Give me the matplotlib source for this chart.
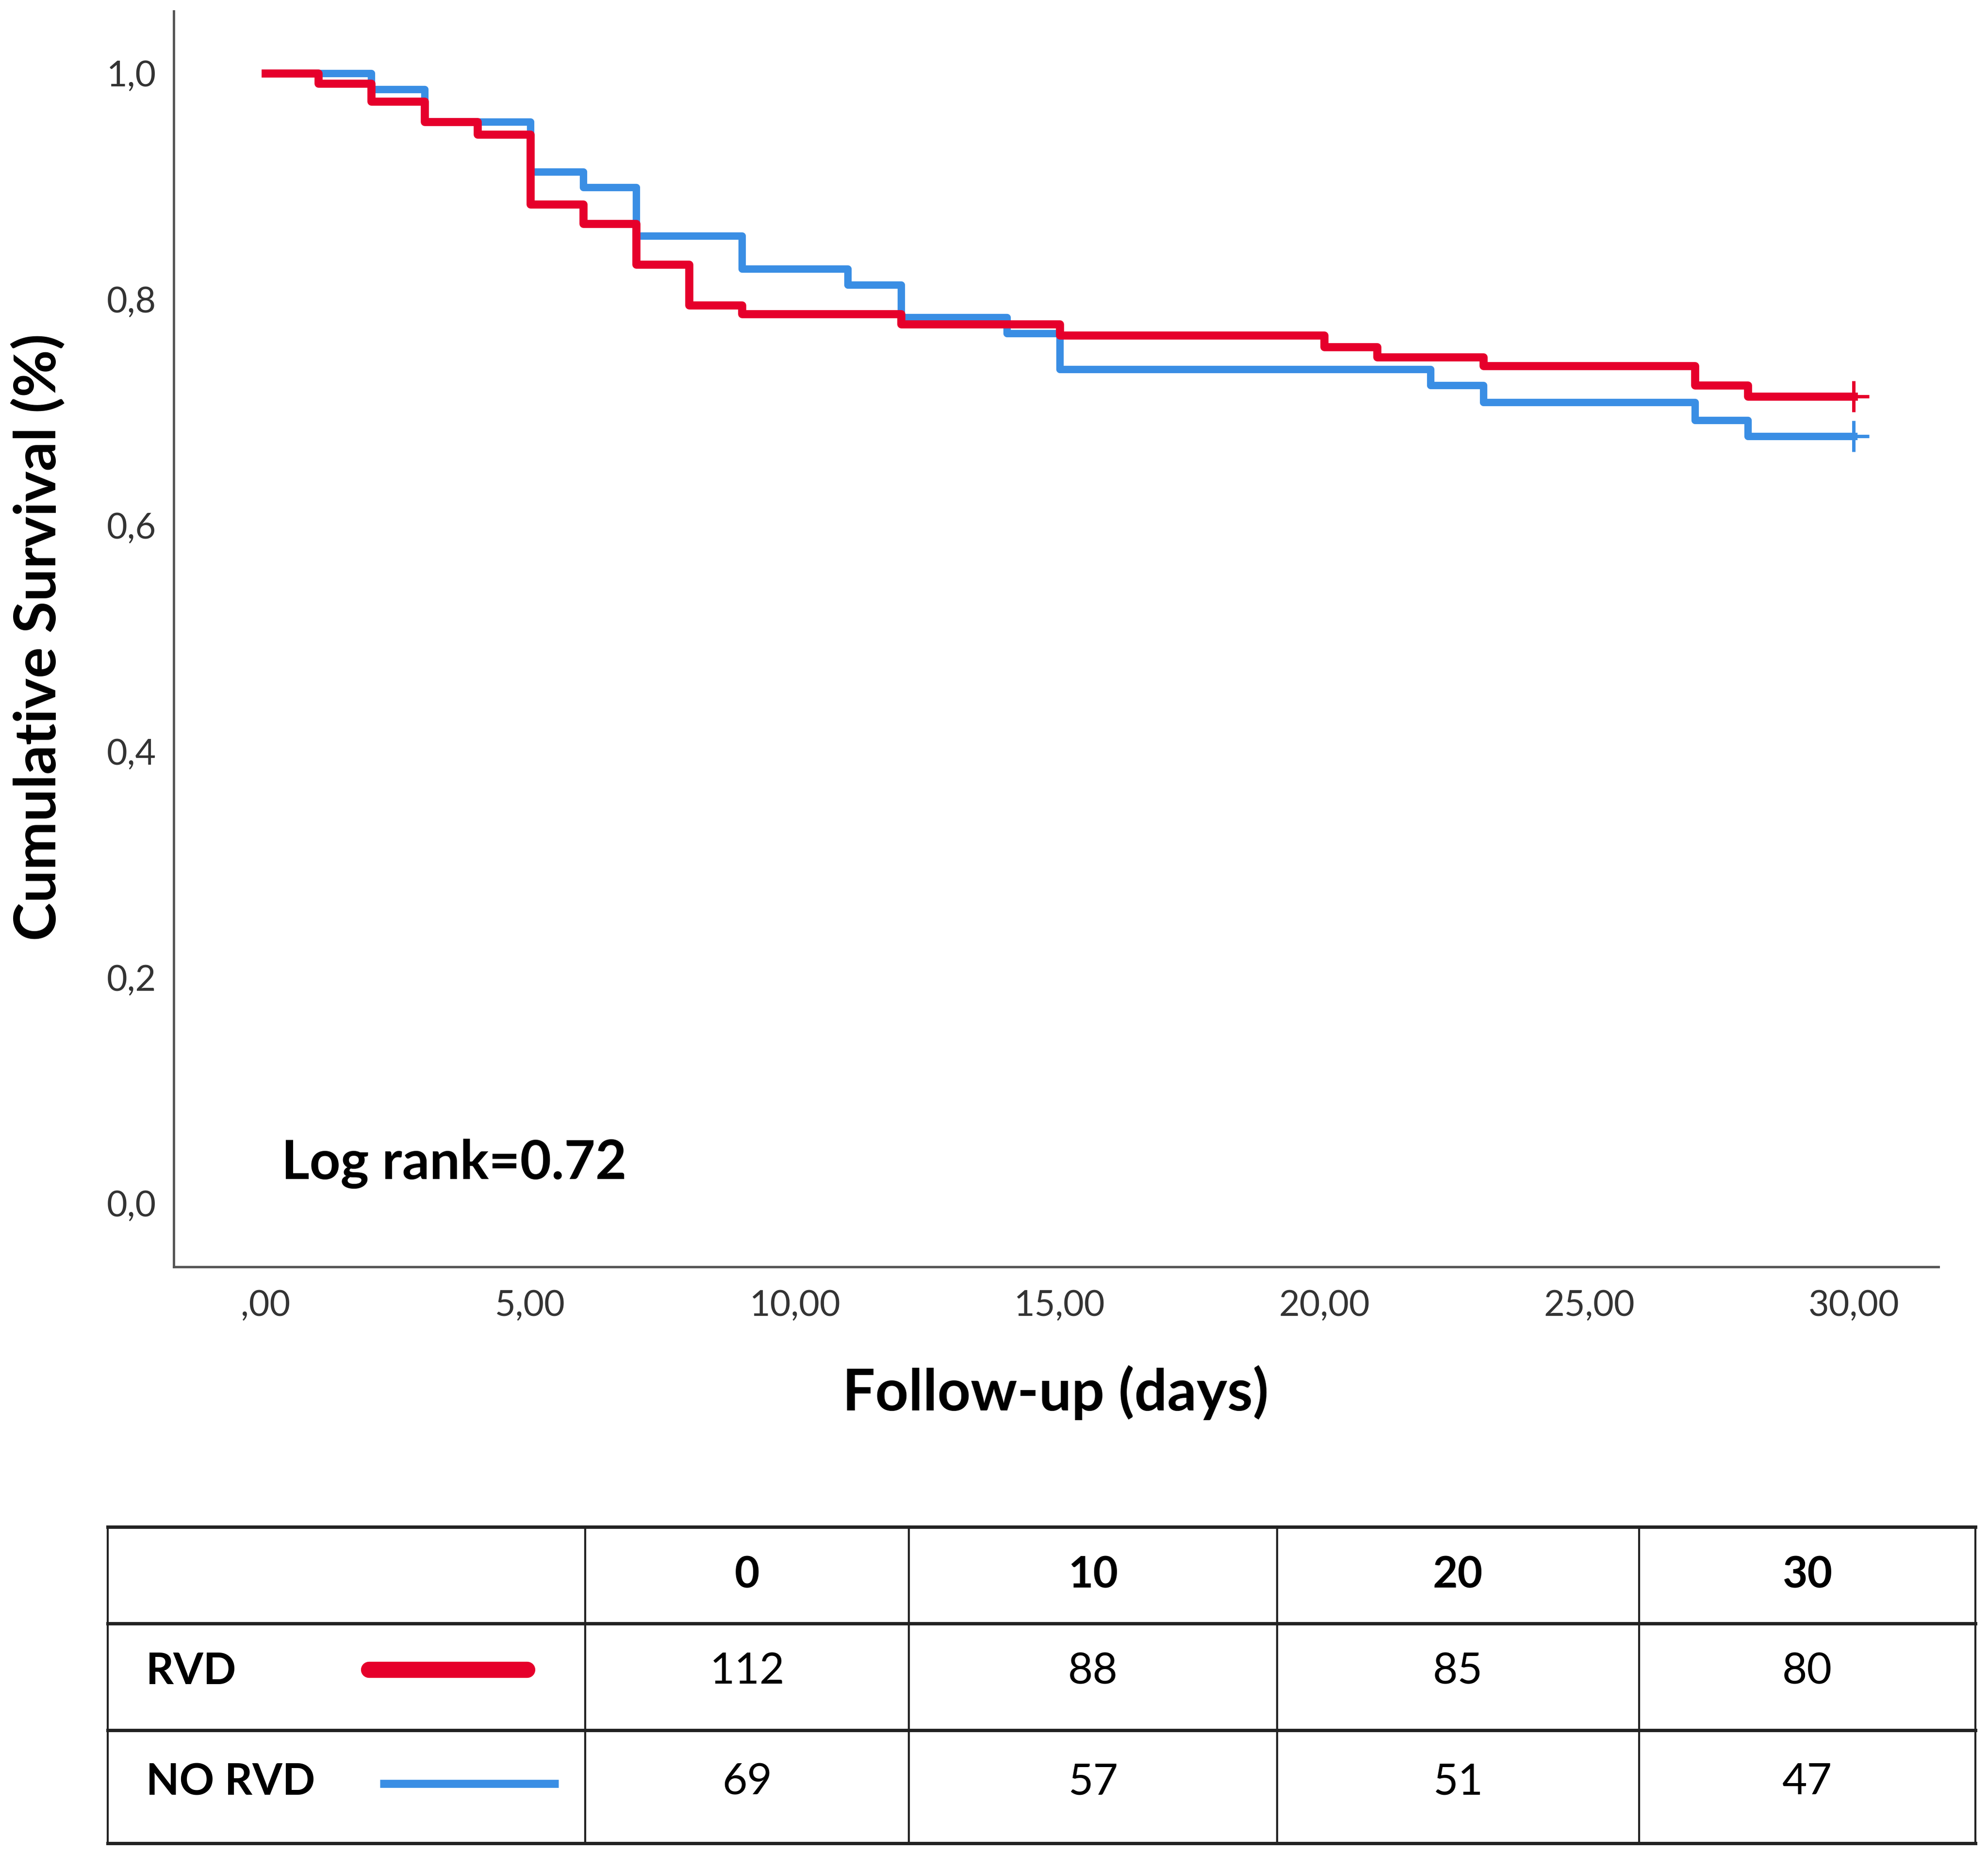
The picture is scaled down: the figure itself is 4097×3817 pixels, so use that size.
import numpy as np
import matplotlib
matplotlib.use("Agg")
import matplotlib.pyplot as plt

plt.rcParams["font.family"] = ["Lato", "DejaVu Sans"]

# Kaplan-Meier step data
rvd_t = [0, 1, 2, 3, 4, 5, 6, 7, 8, 9, 12, 15, 20, 21, 23, 27, 28, 30]
rvd_s = [1.0, 0.991, 0.975, 0.957, 0.946, 0.884, 0.867, 0.831, 0.795, 0.787,
         0.778, 0.768, 0.758, 0.749, 0.741, 0.724, 0.714, 0.714]
norvd_t = [0, 2, 3, 5, 6, 7, 9, 11, 12, 14, 15, 22, 23, 27, 28, 30]
norvd_s = [1.0, 0.986, 0.957, 0.913, 0.899, 0.856, 0.827, 0.813, 0.784,
           0.770, 0.738, 0.724, 0.709, 0.693, 0.679, 0.679]

yticks = [0.0, 0.2, 0.4, 0.6, 0.8, 1.0]
ytick_labels = ["0,0", "0,2", "0,4", "0,6", "0,8", "1,0"]
xticks = [0, 5, 10, 15, 20, 25, 30]
xtick_labels = [",00", "5,00", "10,00", "15,00", "20,00", "25,00", "30,00"]

# numbers at risk table
risk_times = ["0", "10", "20", "30"]
risk_groups = ["RVD", "NO RVD"]
risk_rvd = [112, 88, 85, 80]
risk_norvd = [69, 57, 51, 47]

red = "#E6002B"
blue = "#3A8EE4"

fig = plt.figure(figsize=(40.97, 38.17), dpi=100)
ax = fig.add_axes([0.0875, 0.316, 0.8876, 0.678])

ax.step(norvd_t, norvd_s, where="post", color=blue, lw=11, zorder=2)
ax.step(rvd_t, rvd_s, where="post", color=red, lw=12, zorder=3)
ax.plot(norvd_t[-1], norvd_s[-1], marker="+", ms=46, mew=5, color=blue, zorder=2)
ax.plot(rvd_t[-1], rvd_s[-1], marker="+", ms=46, mew=5, color=red, zorder=3)

ax.set_xlim(-1.73, 31.6)
ax.set_ylim(-0.056, 1.055)
ax.set_xticks(xticks)
ax.set_xticklabels(xtick_labels)
ax.set_yticks(yticks)
ax.set_yticklabels(ytick_labels)
ax.tick_params(length=0, labelsize=53, colors="#333333")
ax.tick_params(axis="x", pad=34)
ax.tick_params(axis="y", pad=26)
for s in ["top", "right"]:
    ax.spines[s].set_visible(False)
for s in ["left", "bottom"]:
    ax.spines[s].set_color("#555555")
    ax.spines[s].set_linewidth(3.5)

# axis titles
fig.text(0.531, 0.248, "Follow-up (days)", fontsize=86, fontweight="bold",
         ha="center", va="center")
fig.text(0.0192, 0.656, "Cumulative Survival (%)", fontsize=86,
         fontweight="bold", rotation=90, ha="center", va="center")

ax.text(0.3, 0.035, "Log rank=0.72", fontsize=80, fontweight="bold",
        ha="left", va="center")

# At-risk table drawn in figure coordinates
tab = fig.add_axes([0, 0, 1, 1])
tab.set_xlim(0, 1)
tab.set_ylim(0, 1)
tab.axis("off")

col_edges = [0.0543, 0.2944, 0.4572, 0.6424, 0.8244, 0.9936]
row_edges = [0.1756, 0.1235, 0.0658, 0.0048]
row_centers = [0.1495, 0.0974, 0.0377]

for y in row_edges:
    tab.plot([col_edges[0], col_edges[-1]], [y, y], color="#222222", lw=5,
             solid_capstyle="projecting")
for x in col_edges:
    tab.plot([x, x], [row_edges[0], row_edges[-1]], color="#222222", lw=3)

col_centers = [(col_edges[i] + col_edges[i + 1]) / 2 for i in range(1, 5)]
for cx, lab in zip(col_centers, risk_times):
    tab.text(cx, row_centers[0], lab, fontsize=64, fontweight="bold",
             ha="center", va="center")
for cx, n1, n2 in zip(col_centers, risk_rvd, risk_norvd):
    tab.text(cx, row_centers[1], str(n1), fontsize=64, ha="center", va="center")
    tab.text(cx, row_centers[2], str(n2), fontsize=64, ha="center", va="center")

tab.text(0.0734, row_centers[1], risk_groups[0], fontsize=64,
         fontweight="bold", ha="left", va="center")
tab.text(0.0734, row_centers[2], risk_groups[1], fontsize=64,
         fontweight="bold", ha="left", va="center")
tab.plot([0.1855, 0.2650], [0.0985, 0.0985], color=red, lw=24,
         solid_capstyle="round")
tab.plot([0.1910, 0.2810], [0.0370, 0.0370], color=blue, lw=12,
         solid_capstyle="butt")

fig.savefig("out.png", dpi=100)
